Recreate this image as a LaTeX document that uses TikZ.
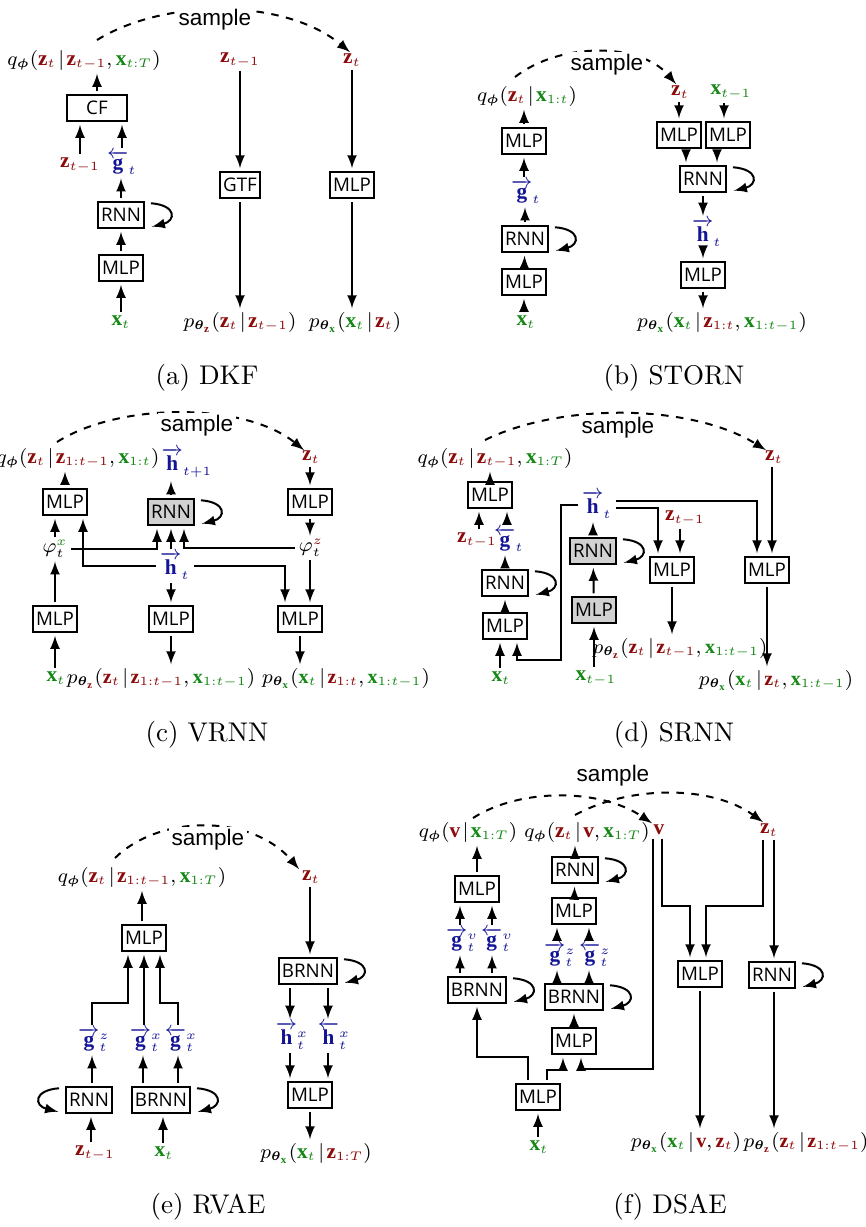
\documentclass[tikz,border=0pt]{standalone}
\usepackage{amsmath}
\usepackage{fontspec}
\setmathrm{Liberation Serif}
\newfontfamily\boxfont{Open Sans}
\newfontfamily\smplfont{Liberation Sans}
\DeclareMathSizes{8.5}{8.5}{5.4}{4.4}
\DeclareMathSizes{8}{8}{5.1}{4.2}

\definecolor{zred}{RGB}{140,10,10}
\definecolor{xgreen}{RGB}{20,135,20}
\definecolor{hblue}{RGB}{20,20,150}

\newcommand{\zv}[1]{\textcolor{zred}{\mathbf{z}_{#1}}}
\newcommand{\xv}[1]{\textcolor{xgreen}{\mathbf{x}_{#1}}}
\newcommand{\vvar}{\textcolor{zred}{\mathbf{v}}}
\newcommand{\gf}[2]{\textcolor{hblue}{\overrightarrow{\mathbf{g}}^{#1}_{#2}}}
\newcommand{\gb}[2]{\textcolor{hblue}{\overleftarrow{\mathbf{g}}^{#1}_{#2}}}
\newcommand{\hf}[2]{\textcolor{hblue}{\overrightarrow{\mathbf{h}}^{#1}_{#2}}}
\newcommand{\hb}[2]{\textcolor{hblue}{\overleftarrow{\mathbf{h}}^{#1}_{#2}}}
\newcommand{\qphi}{q_{\boldsymbol{\phi}}}
\newcommand{\pz}{p_{\boldsymbol{\theta}_{\textcolor{zred}{\mathbf{z}}}}}
\newcommand{\px}{p_{\boldsymbol{\theta}_{\textcolor{xgreen}{\mathbf{x}}}}}
\newcommand{\given}{\mkern2mu|\mkern2mu}
% recurrence loops beside a box
\newcommand{\rloop}[1]{\draw[->] ([shift={(3,5)}]#1.north east) .. controls +(26,2) and +(24,-6) .. ([shift={(4,-5)}]#1.south east);}
\newcommand{\lloop}[1]{\draw[->] ([shift={(-3,5)}]#1.north west) .. controls +(-26,2) and +(-24,-6) .. ([shift={(-4,-5)}]#1.south west);}

\begin{document}
\begin{tikzpicture}[x=0.4pt, y=-0.4pt, >=latex, thick,
	box/.style={draw, font=\boxfont\fontsize{7.5}{8}\selectfont, inner xsep=1.3pt, inner ysep=0pt, minimum height=10.4pt, outer sep=1.5pt},
	gbox/.style={box, fill=black!18},
	lab/.style={inner sep=0pt, outer sep=1.5pt, font=\fontsize{8.5}{10}\selectfont},
	labsm/.style={lab, font=\fontsize{8}{10}\selectfont},
	smp/.style={font=\smplfont\fontsize{9}{10}\selectfont, fill=white, inner sep=1pt},
	captxt/.style={font=\fontsize{10.8}{12}\selectfont}]
	\useasboundingbox[fill=white] (0,0) rectangle (866,1227);

	% (a) DKF
	\node[lab] (a-q) at (84,60) {$\qphi(\zv{t}\given\zv{t-1},\xv{t:T})$};
	\node[box, minimum width=24pt] (a-cf) at (97,108) {CF};
	\node[lab] (a-zp) at (80,165) {$\zv{t-1}$};
	\node[lab] (a-g) at (122,163) {$\gb{}{t}$};
	\node[box] (a-rnn) at (121,215) {RNN};
	\node[box] (a-mlp) at (121,268) {MLP};
	\node[lab] (a-x) at (121,322) {$\xv{t}$};
	\node[lab] (a-zp2) at (240,60) {$\zv{t-1}$};
	\node[box] (a-gtf) at (240,185) {GTF};
	\node[lab] (a-pz) at (240,322) {$\pz(\zv{t}\given\zv{t-1})$};
	\node[lab] (a-zt) at (352,60) {$\zv{t}$};
	\node[box] (a-mlp2) at (352,185) {MLP};
	\node[lab] (a-px) at (355,322) {$\px(\xv{t}\given\zv{t})$};
	\draw[->] (a-cf.north) -- (a-cf.north |- a-q.south);
	\draw[->] (a-zp) -- (a-zp |- a-cf.south);
	\draw[->] (a-g) -- (a-g |- a-cf.south);
	\draw[->] (a-rnn.north) -- (a-rnn.north |- a-g.south);
	\draw[->] (a-mlp) -- (a-rnn);
	\draw[->] (a-x) -- (a-mlp);
	\draw[->] (a-zp2) -- (a-gtf);
	\draw[->] (a-gtf) -- (a-gtf |- a-pz.north);
	\draw[->] (a-zt) -- (a-mlp2);
	\draw[->] (a-mlp2) -- (a-mlp2 |- a-px.north);
	\rloop{a-rnn}
	\coordinate (a-s) at (97,40);
	\draw[dashed, ->] (a-s) .. controls (165,-2) and (285,-2) .. ([shift={(-2,2)}]a-zt.north);
	\node[smp] (a-smp) at (215,20) {sample};
	\node[captxt] (a-cap) at (207,378) {(a) DKF};

	% (b) STORN
	\node[lab] (b-q) at (527,96) {$\qphi(\zv{t}\given\xv{1:t})$};
	\node[box] (b-mlp1) at (524,141) {MLP};
	\node[lab] (b-g) at (526,192) {$\gf{}{t}$};
	\node[box] (b-rnn) at (525,239) {RNN};
	\node[box] (b-mlp2) at (524,282) {MLP};
	\node[lab] (b-x) at (526,322) {$\xv{t}$};
	\node[lab] (b-zt) at (680,92) {$\zv{t}$};
	\node[lab] (b-xp) at (731,92) {$\xv{t-1}$};
	\node[box] (b-mlpz) at (679,135) {MLP};
	\node[box] (b-mlpx) at (728,135) {MLP};
	\node[box] (b-rnn2) at (703,179) {RNN};
	\node[lab] (b-h) at (707,233) {$\hf{}{t}$};
	\node[box] (b-mlp3) at (703,275) {MLP};
	\node[lab] (b-px) at (722,322) {$\px(\xv{t}\given\zv{1:t},\xv{1:t-1})$};
	\draw[->] (b-mlp1.north) -- (b-mlp1.north |- b-q.south);
	\draw[->] (b-mlp1.south |- b-g.north) -- (b-mlp1.south);
	\draw[->] (b-rnn.north) -- (b-rnn.north |- b-g.south);
	\draw[->] (b-mlp2) -- (b-rnn);
	\draw[->] (b-mlp2.south |- b-x.north) -- (b-mlp2.south);
	\draw[->] (b-mlpz.north |- b-zt.south) -- (b-mlpz.north);
	\draw[->] ([shift={(-4,0)}]b-mlpx.north |- b-xp.south) -- ([shift={(-4,0)}]b-mlpx.north);
	\draw[->] ([shift={(7,0)}]b-mlpz.south) -- ([shift={(7,0)}]b-mlpz.south |- b-rnn2.north);
	\draw[->] ([shift={(-11,0)}]b-mlpx.south) -- ([shift={(-11,0)}]b-mlpx.south |- b-rnn2.north);
	\draw[->] (b-rnn2.south) -- (b-rnn2.south |- b-h.north);
	\draw[->] (b-mlp3.north |- b-h.south) -- (b-mlp3.north);
	\draw[->] (b-mlp3.south) -- (b-mlp3.south |- b-px.north);
	\rloop{b-rnn}
	\rloop{b-rnn2}
	\coordinate (b-s) at (515,77);
	\draw[dashed, ->] (b-s) .. controls (560,42) and (640,42) .. ([shift={(-4,2)}]b-zt.north);
	\node[smp] (b-smp) at (607,65) {sample};
	\node[captxt] (b-cap) at (674,378) {(b) STORN};

	% (c) VRNN
	\node[lab] (c-q) at (78,458) {$\qphi(\zv{t}\given\zv{1:t-1},\xv{1:t})$};
	\node[box] (c-mlpq) at (65,502) {MLP};
	\node[gbox] (c-rnn) at (171,512) {RNN};
	\node[lab] (c-hn) at (187,463) {$\hf{}{t+1}$};
	\node[lab] (c-zt) at (311,457) {$\zv{t}$};
	\node[box] (c-mlpz) at (310,502) {MLP};
	\node[lab] (c-phz) at (311,548) {$\varphi_t^{\textcolor{zred}{z}}$};
	\node[lab] (c-phx) at (55,549) {$\varphi_t^{\textcolor{xgreen}{x}}$};
	\node[box] (c-mlpx) at (55,619) {MLP};
	\node[lab] (c-x) at (56,678) {$\xv{t}$};
	\node[lab] (c-h) at (175,566) {$\hf{}{t}$};
	\node[box] (c-mlpp) at (171,619) {MLP};
	\node[labsm] (c-pz) at (161,678) {$\pz(\zv{t}\given\zv{1:t-1},\xv{1:t-1})$};
	\node[box] (c-mlpo) at (300,619) {MLP};
	\node[labsm] (c-px) at (346,678) {$\px(\xv{t}\given\zv{1:t},\xv{1:t-1})$};
	\draw[->] (c-mlpq.north) -- (c-mlpq.north |- c-q.south);
	\draw[->] (c-rnn.north) -- (c-rnn.north |- c-hn.south);
	\draw[->] (c-mlpz.north |- c-zt.south) -- (c-mlpz.north);
	\draw[->] (c-mlpz.south) -- (c-mlpz.south |- c-phz.north);
	\draw[->] (c-mlpx.north |- c-phx.north) -- (c-mlpx.north |- c-mlpq.south);
	\draw[->] (c-mlpx.north) -- (c-mlpx.north |- c-phx.south);
	\draw[->] (c-mlpx.south |- c-x.north) -- (c-mlpx.south);
	\draw[->] (c-phx.east) -| ([shift={(-14,0)}]c-rnn.south);
	\draw[->] (c-rnn.south |- c-h.north) -- (c-rnn.south);
	\draw[->] (c-phz.west) -| ([shift={(13,0)}]c-rnn.south);
	\draw[->] (c-h.west) -| ([shift={(18,0)}]c-mlpq.south);
	\draw[->] (c-h.east) -| ([shift={(-15,0)}]c-mlpo.north);
	\draw[->] (c-mlpp.north |- c-h.south) -- (c-mlpp.north);
	\draw[->] (c-mlpz.south |- c-phz.south) -- ([shift={(10,0)}]c-mlpo.north);
	\draw[->] (c-mlpp.south) -- (c-mlpp.south |- c-pz.north);
	\draw[->] (c-mlpo.south) -- (c-mlpo.south |- c-px.north);
	\rloop{c-rnn}
	\coordinate (c-s) at (57,442);
	\draw[dashed, ->] (c-s) .. controls (120,402) and (245,402) .. ([shift={(-7,3)}]c-zt.north);
	\node[smp] (c-smp) at (197,426) {sample};
	\node[captxt] (c-cap) at (207,735) {(c) VRNN};

	% (d) SRNN
	\node[lab] (d-q) at (495,458) {$\qphi(\zv{t}\given\zv{t-1},\xv{1:T})$};
	\node[box] (d-mlpq) at (490,495) {MLP};
	\node[lab] (d-zp) at (477,540) {$\zv{t-1}$};
	\node[lab] (d-g) at (509,540) {$\gb{}{t}$};
	\node[box] (d-rnn) at (505,583) {RNN};
	\node[box] (d-mlpx) at (505,626) {MLP};
	\node[lab] (d-x) at (501,678) {$\xv{t}$};
	\node[lab] (d-h) at (597,505) {$\hf{}{t}$};
	\node[gbox] (d-grnn) at (593,551) {RNN};
	\node[gbox] (d-gmlp) at (594,610) {MLP};
	\node[lab] (d-xp) at (596,678) {$\xv{t-1}$};
	\node[lab] (d-zp2) at (685,518) {$\zv{t-1}$};
	\node[box] (d-mlpz) at (672,570) {MLP};
	\node[labsm] (d-pz) at (680,648) {$\pz(\zv{t}\given\zv{t-1},\xv{1:t-1})$};
	\node[lab] (d-zt) at (774,457) {$\zv{t}$};
	\node[box] (d-mlpo) at (767,570) {MLP};
	\node[labsm] (d-px) at (776,680) {$\px(\xv{t}\given\zv{t},\xv{1:t-1})$};
	\coordinate (d-c1) at (561,660);
	\draw[->] (d-mlpq.north) -- (d-mlpq.north |- d-q.south);
	\draw[->] ([shift={(-11,0)}]d-mlpq.south |- d-zp.north) -- ([shift={(-11,0)}]d-mlpq.south);
	\draw[->] ([shift={(17,0)}]d-mlpq.south |- d-g.north) -- ([shift={(17,0)}]d-mlpq.south);
	\draw[->] (d-rnn.north) -- (d-rnn.north |- d-g.south);
	\draw[->] (d-mlpx) -- (d-rnn);
	\draw[->] ([shift={(-5,0)}]d-mlpx.south |- d-x.north) -- ([shift={(-5,0)}]d-mlpx.south);
	\draw[->] (d-h.west) -| (d-c1) -| ([shift={(12,0)}]d-mlpx.south);
	\draw[->] (d-grnn.north) -- (d-grnn.north |- d-h.south);
	\draw[->] (d-gmlp) -- (d-grnn);
	\draw[->] (d-gmlp.south |- d-xp.north) -- (d-gmlp.south);
	\draw[->] ([shift={(0,-4)}]d-h.east) -| ([shift={(-10,0)}]d-mlpo.north);
	\draw[->] ([shift={(0,3)}]d-h.east) -| ([shift={(-14,0)}]d-mlpz.north);
	\draw[->] ([shift={(8,0)}]d-mlpz.north |- d-zp2.south) -- ([shift={(8,0)}]d-mlpz.north);
	\draw[->] ([shift={(5,0)}]d-mlpo.north |- d-zt.south) -- ([shift={(5,0)}]d-mlpo.north);
	\draw[->] (d-mlpz.south) -- (d-mlpz.south |- d-pz.north);
	\draw[->] (d-mlpo.south) -- (d-mlpo.south |- d-px.north);
	\rloop{d-rnn}
	\rloop{d-grnn}
	\coordinate (d-s) at (485,440);
	\draw[dashed, ->] (d-s) .. controls (560,403) and (690,403) .. ([shift={(-8,3)}]d-zt.north);
	\node[smp] (d-smp) at (618,428) {sample};
	\node[captxt] (d-cap) at (674,735) {(d) SRNN};

	% (e) RVAE
	\node[lab] (e-q) at (142,877) {$\qphi(\zv{t}\given\zv{1:t-1},\xv{1:T})$};
	\node[box] (e-mlp) at (144,938) {MLP};
	\node[lab] (e-gz) at (94,1040) {$\gf{z}{t}$};
	\node[lab] (e-gxf) at (146,1040) {$\gf{x}{t}$};
	\node[lab] (e-gxb) at (181,1040) {$\gb{x}{t}$};
	\node[box] (e-rnn) at (89,1100) {RNN};
	\node[box] (e-brnn) at (161,1100) {BRNN};
	\node[lab] (e-zp) at (95,1153) {$\zv{t-1}$};
	\node[lab] (e-x) at (164,1153) {$\xv{t}$};
	\node[lab] (e-zt) at (311,877) {$\zv{t}$};
	\node[box] (e-brnn2) at (308,971) {BRNN};
	\node[lab] (e-hf) at (292,1036) {$\hf{x}{t}$};
	\node[lab] (e-hb) at (334,1036) {$\hb{x}{t}$};
	\node[box] (e-mlp2) at (310,1095) {MLP};
	\node[lab] (e-px) at (316,1153) {$\px(\xv{t}\given\zv{1:T})$};
	\coordinate (e-c1) at (128,1003);
	\coordinate (e-c2) at (160,1003);
	\draw[->] ([shift={(-2,0)}]e-mlp.north) -- ([shift={(-2,0)}]e-mlp.north |- e-q.south);
	\draw[->] ([shift={(-2,0)}]e-gz.north) |- (e-c1) -- ([shift={(-16,0)}]e-mlp.south);
	\draw[->] (e-mlp.south |- e-gxf.north) -- (e-mlp.south);
	\draw[->] ([shift={(-3,0)}]e-gxb.north) |- (e-c2) -- ([shift={(16,0)}]e-mlp.south);
	\draw[->] ([shift={(3,0)}]e-rnn.north) -- ([shift={(3,0)}]e-rnn.north |- e-gz.south);
	\draw[->] ([shift={(-18,0)}]e-brnn.north) -- ([shift={(-18,0)}]e-brnn.north |- e-gxf.south);
	\draw[->] ([shift={(17,0)}]e-brnn.north) -- ([shift={(17,0)}]e-brnn.north |- e-gxb.south);
	\draw[->] ([shift={(2,0)}]e-rnn.south |- e-zp.north) -- ([shift={(2,0)}]e-rnn.south);
	\draw[->] ([shift={(2,0)}]e-brnn.south |- e-x.north) -- ([shift={(2,0)}]e-brnn.south);
	\draw[->] ([shift={(2,0)}]e-brnn2.north |- e-zt.south) -- ([shift={(2,0)}]e-brnn2.north);
	\draw[->] ([shift={(-18,0)}]e-brnn2.south) -- ([shift={(-18,0)}]e-brnn2.south |- e-hf.north);
	\draw[->] ([shift={(20,0)}]e-brnn2.south) -- ([shift={(20,0)}]e-brnn2.south |- e-hb.north);
	\draw[->] ([shift={(-20,0)}]e-mlp2.north |- e-hf.south) -- ([shift={(-20,0)}]e-mlp2.north);
	\draw[->] ([shift={(18,0)}]e-mlp2.north |- e-hb.south) -- ([shift={(18,0)}]e-mlp2.north);
	\draw[->] (e-mlp2.south) -- (e-mlp2.south |- e-px.north);
	\lloop{e-rnn}
	\rloop{e-brnn}
	\rloop{e-brnn2}
	\coordinate (e-s) at (115,858);
	\draw[dashed, ->] (e-s) .. controls (160,814) and (252,814) .. ([shift={(-12,2)}]e-zt.north);
	\node[smp] (e-smp) at (208,840) {sample};
	\node[captxt] (e-cap) at (208,1207) {(e) RVAE};

	% (f) DSAE
	\node[lab] (f-qv) at (468,832) {$\qphi(\vvar\given\xv{1:T})$};
	\node[lab] (f-qz) at (587,832) {$\qphi(\zv{t}\given\vvar,\xv{1:T})$};
	\node[lab] (f-v) at (659,830) {$\vvar$};
	\node[lab] (f-zt) at (769,830) {$\zv{t}$};
	\node[box] (f-mlpv) at (477,889) {MLP};
	\node[lab] (f-gvf) at (462,940) {$\gf{v}{t}$};
	\node[lab] (f-gvb) at (497,940) {$\gb{v}{t}$};
	\node[box] (f-brnnv) at (477,990) {BRNN};
	\node[box] (f-mlpx) at (538,1097) {MLP};
	\node[lab] (f-x) at (539,1147) {$\xv{t}$};
	\node[box] (f-rnnz) at (575,870) {RNN};
	\node[box] (f-mlpz) at (574,911) {MLP};
	\node[lab] (f-gzf) at (560,955) {$\gf{z}{t}$};
	\node[lab] (f-gzb) at (595,955) {$\gb{z}{t}$};
	\node[box] (f-brnnz) at (574,997) {BRNN};
	\node[box] (f-mlpin) at (574,1041) {MLP};
	\node[box] (f-mlpo) at (700,974) {MLP};
	\node[box] (f-rnno) at (772,975) {RNN};
	\node[labsm] (f-px) at (686,1142) {$\px(\xv{t}\given\vvar,\zv{t})$};
	\node[labsm] (f-pz) at (806,1142) {$\pz(\zv{t}\given\zv{1:t-1})$};
	\coordinate (f-c1) at (477,1057);
	\coordinate (f-c2) at (563,1070);
	\coordinate (f-c3) at (581,1069);
	\coordinate (f-c4) at (690,906);
	\coordinate (f-c5) at (706,906);
	\draw[->] (f-mlpv.north) -- (f-mlpv.north |- f-qv.south);
	\draw[->] ([shift={(-17,0)}]f-mlpv.south |- f-gvf.north) -- ([shift={(-17,0)}]f-mlpv.south);
	\draw[->] ([shift={(15,0)}]f-mlpv.south |- f-gvb.north) -- ([shift={(15,0)}]f-mlpv.south);
	\draw[->] ([shift={(-17,0)}]f-brnnv.north) -- ([shift={(-17,0)}]f-brnnv.north |- f-gvf.south);
	\draw[->] ([shift={(15,0)}]f-brnnv.north) -- ([shift={(15,0)}]f-brnnv.north |- f-gvb.south);
	\draw[->] ([shift={(-10,0)}]f-mlpx.north) |- (f-c1) -- (f-brnnv.south);
	\draw[->] ([shift={(9,0)}]f-mlpx.north) |- (f-c2) -- ([shift={(-11,0)}]f-mlpin.south);
	\draw[->] (f-mlpx.south |- f-x.north) -- (f-mlpx.south);
	\draw[->] ([shift={(-6,0)}]f-v.south) |- (f-c3) -- ([shift={(7,0)}]f-mlpin.south);
	\draw[->] ([shift={(3,0)}]f-v.south) |- (f-c4) -- ([shift={(-10,0)}]f-mlpo.north);
	\draw[->] ([shift={(-6,0)}]f-zt.south) |- (f-c5) -- ([shift={(6,0)}]f-mlpo.north);
	\draw[->] ([shift={(2,0)}]f-rnno.north |- f-zt.south) -- ([shift={(2,0)}]f-rnno.north);
	\draw[->] (f-rnnz.north) -- (f-rnnz.north |- f-qz.south);
	\draw[->] (f-mlpz) -- (f-rnnz);
	\draw[->] ([shift={(-17,0)}]f-mlpz.south |- f-gzf.north) -- ([shift={(-17,0)}]f-mlpz.south);
	\draw[->] ([shift={(15,0)}]f-mlpz.south |- f-gzb.north) -- ([shift={(15,0)}]f-mlpz.south);
	\draw[->] ([shift={(-17,0)}]f-brnnz.north) -- ([shift={(-17,0)}]f-brnnz.north |- f-gzf.south);
	\draw[->] ([shift={(15,0)}]f-brnnz.north) -- ([shift={(15,0)}]f-brnnz.north |- f-gzb.south);
	\draw[->] (f-mlpin) -- (f-brnnz);
	\draw[->] (f-mlpo.south) -- (f-mlpo.south |- f-px.north);
	\draw[->] ([shift={(2,0)}]f-rnno.south) -- ([shift={(2,0)}]f-rnno.south |- f-pz.north);
	\rloop{f-brnnv}
	\rloop{f-rnnz}
	\rloop{f-brnnz}
	\rloop{f-rnno}
	\coordinate (f-s1) at (473,818);
	\coordinate (f-s2) at (575,815);
	\draw[dashed, ->] (f-s1) .. controls (520,788) and (600,788) .. ([shift={(-7,2)}]f-v.north);
	\draw[dashed, ->] (f-s2) .. controls (630,785) and (712,785) .. ([shift={(-6,2)}]f-zt.north);
	\node[smp, fill=none] (f-smp) at (613,776) {sample};
	\node[captxt] (f-cap) at (670,1207) {(f) DSAE};
\end{tikzpicture}
\end{document}
